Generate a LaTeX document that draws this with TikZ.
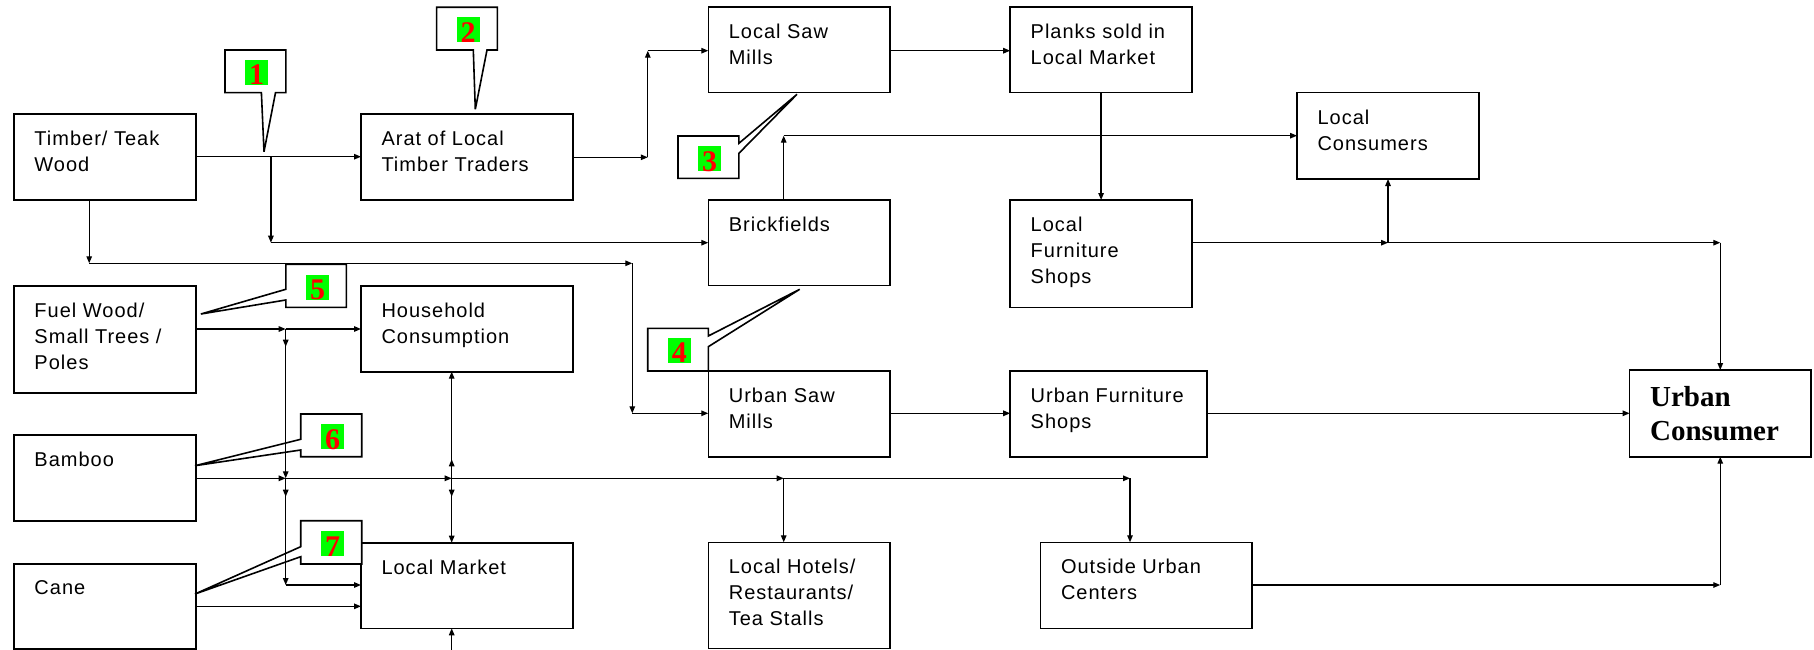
\documentclass[tikz,border=0pt]{standalone}
\usepackage{fontspec}
\setmainfont{Liberation Sans}
\newfontfamily\ucfont{Liberation Serif}
\usetikzlibrary{arrows.meta}
\definecolor{numgreen}{RGB}{0,255,0}
\definecolor{numred}{RGB}{255,0,0}
% #1 width, #2 height, #3 first baseline, #4 text
\newcommand\boxtxt[4]{\hspace*{20.5pt}\parbox[t][#2pt][t]{\dimexpr #1pt-20.5pt\relax}{\raggedright\rule{0pt}{#3pt}#4}}
\tikzset{
  bx/.style={draw, line width=1.6pt, inner sep=0pt, outer sep=0pt, anchor=north west,
    font=\fontsize{20pt}{26pt}\selectfont\addfontfeatures{LetterSpace=5}},
  ubx/.style={draw, line width=1.6pt, inner sep=0pt, outer sep=0pt, anchor=north west,
    font=\fontsize{29pt}{33.3pt}\selectfont\ucfont\bfseries},
  ar/.style={line width=1.3pt, -{Triangle[length=7pt,width=5.5pt]}},
  co/.style={draw, fill=white, line width=1.6pt, miter limit=4},
  num/.style={fill=numgreen, text=numred, inner sep=0pt, minimum width=23pt,
    text height=25pt, text depth=0pt, font=\fontsize{30pt}{30pt}\selectfont\ucfont\bfseries}
}
\begin{document}
\begin{tikzpicture}[x=1pt,y=-1pt]
\useasboundingbox (0,0) rectangle (1814,650);
% boxes
\node[bx] (timber) at (14,114.3) {\boxtxt{182}{85.7}{31.5}{Timber/ Teak\\Wood}};
\node[bx] (arat) at (361,114.3) {\boxtxt{212}{85.7}{31.5}{Arat of Local\\Timber Traders}};
\node[bx] (lsm) at (708.3,7.3) {\boxtxt{181.4}{85.4}{31.5}{Local Saw\\Mills}};
\node[bx] (planks) at (1010.2,7.3) {\boxtxt{181.8}{85.4}{31.5}{Planks sold in\\Local Market}};
\node[bx] (lc) at (1297,92.7) {\boxtxt{181.8}{86.3}{31.5}{Local\\Consumers}};
\node[bx] (brick) at (708.3,200) {\boxtxt{181.4}{85.3}{31.5}{Brickfields}};
\node[bx] (lfs) at (1010.2,200) {\boxtxt{181.8}{107.3}{31.5}{Local\\Furniture\\Shops}};
\node[bx] (fw) at (14,285.7) {\boxtxt{182}{107}{31.5}{Fuel Wood/\\Small Trees /\\Poles}};
\node[bx] (hh) at (361,285.7) {\boxtxt{212}{86}{31.5}{Household\\Consumption}};
\node[bx] (usm) at (708.3,371) {\boxtxt{181.4}{85.7}{31.5}{Urban Saw\\Mills}};
\node[bx] (ufs) at (1010.2,371) {\boxtxt{196.5}{85.7}{31.5}{Urban Furniture\\Shops}};
\node[ubx] (uc) at (1629.6,370) {\boxtxt{181.3}{86.7}{36.7}{Urban\\Consumer}};
\node[bx] (bamboo) at (14,435) {\boxtxt{182}{85.7}{31.5}{Bamboo}};
\node[bx] (cane) at (14,564) {\boxtxt{182}{85}{30.5}{Cane}};
\node[bx] (lm) at (361,542.7) {\boxtxt{212}{85.6}{31.5}{Local Market}};
\node[bx] (lh) at (708.3,542.3) {\boxtxt{181.4}{106}{31.5}{Local Hotels/\\Restaurants/\\Tea Stalls}};
\node[bx] (ouc) at (1040.5,542.3) {\boxtxt{211.5}{86}{31.5}{Outside Urban\\Centers}};
% callouts
\draw[co] (225,50) -- (285.8,50) -- (285.8,92.7) -- (275.5,92.7) -- (264,151.7) -- (261.4,92.7) -- (225,92.7) -- cycle;
\node[num] (n1) at (256.5,72.5) {1};
\draw[co] (436.6,7.3) -- (497.4,7.3) -- (497.4,50) -- (487,50) -- (475.3,109.3) -- (473.3,50) -- (436.6,50) -- cycle;
\node[num] (n2) at (468,29.8) {2};
\draw[co] (678,136) -- (738.9,136) -- (738.9,143.3) -- (797,94.3) -- (738.9,153.3) -- (738.9,178.3) -- (678,178.3) -- cycle;
\node[num] (n3) at (709.5,158.5) {3};
\draw[co] (647.7,328.3) -- (708.3,328.3) -- (708.3,336) -- (799.7,289.3) -- (708.3,346.7) -- (708.3,371) -- (647.7,371) -- cycle;
\node[num] (n4) at (679.3,350.2) {4};
\draw[co] (285.8,264.3) -- (346.3,264.3) -- (346.3,307.3) -- (285.8,307.3) -- (285.8,300) -- (200.9,314) -- (285.8,289.3) -- cycle;
\node[num] (n5) at (317.5,287) {5};
\draw[co] (300.7,414) -- (361.7,414) -- (361.7,456.7) -- (300.7,456.7) -- (300.7,450) -- (195,465.7) -- (300.7,439.3) -- cycle;
\node[num] (n6) at (332.5,436.5) {6};
\draw[co] (300.7,520.7) -- (361.7,520.7) -- (361.7,564) -- (300.7,564) -- (300.7,556.7) -- (195,594) -- (300.7,546.7) -- cycle;
\node[num] (n7) at (332.5,543.5) {7};
% junction coordinates
\coordinate (j1) at (270.9,156.7);
\coordinate (j1b) at (270.9,242.7);
\coordinate (t1) at (89.2,263.3);
\coordinate (t2) at (632.3,263.3);
\coordinate (t3) at (632.3,413.3);
\coordinate (a1) at (647.8,157.3);
\coordinate (a2) at (647.8,50.7);
\coordinate (b1) at (783.7,135.7);
\coordinate (f1) at (1388,242.7);
\coordinate (f2) at (1720.25,242.7);
\coordinate (o1) at (1720.25,585);
\coordinate (jF) at (285.7,329);
\coordinate (jB1) at (285.7,478.3);
\coordinate (jB2) at (451.7,478.3);
\coordinate (jB3) at (783.7,478.3);
\coordinate (jB4) at (1130,478.3);
\coordinate (jC) at (285.7,585);
\coordinate (bot) at (451.7,651);
% connectors
\draw[ar] (timber.east|-j1) -- (arat.west|-j1);
\draw[ar] (j1) -- (j1b);
\draw[ar] (j1b) -- (brick.west|-j1b);
\draw[ar] (t1|-timber.south) -- (t1);
\draw[ar] (t1) -- (t2);
\draw[ar] (t2) -- (t3);
\draw[ar] (t3) -- (usm.west|-t3);
\draw[ar] (arat.east|-a1) -- (a1);
\draw[ar] (a1) -- (a2);
\draw[ar] (a2) -- (lsm.west|-a2);
\draw[ar] (lsm.east|-a2) -- (planks.west|-a2);
\draw[ar] (planks.south) -- (planks.south|-lfs.north);
\draw[ar] (b1|-brick.north) -- (b1);
\draw[ar] (b1) -- (lc.west|-b1);
\draw[ar] (lfs.east|-f1) -- (f1);
\draw[ar] (f1) -- (f2);
\draw[ar] (f2) -- (uc.north);
\draw[ar] (f1) -- (f1|-lc.south);
\draw[ar] (usm.east|-t3) -- (ufs.west|-t3);
\draw[ar] (ufs.east|-t3) -- (uc.west|-t3);
\draw[ar] (ouc.east|-o1) -- (o1);
\draw[ar] (o1) -- (uc.south);
\draw[ar] (fw.east|-jF) -- (jF);
\draw[ar] (jF) -- (hh.west|-jF);
\draw[ar] (jF) -- ++(0,17.7);
\draw[ar] (jF) -- (jB1);
\draw[ar] (bamboo.east|-jB1) -- (jB1);
\draw[ar] (jB1) -- (jB2);
\draw[ar] (jB2) -- (jB3);
\draw[ar] (jB3) -- (jB4);
\draw[ar] (jB3) -- (jB3|-lh.north);
\draw[ar] (jB4) -- (jB4|-ouc.north);
\draw[ar] (jB1) -- ++(0,18.4);
\draw[ar] (jB1) -- (jC);
\draw[ar] (jC) -- (lm.west|-jC);
\draw[ar] (cane.east|-0,606.3) -- (lm.west|-0,606.3);
\draw[ar] (jB2) -- (jB2|-hh.south);
\draw[ar] (jB2) -- ++(0,-19);
\draw[ar] (jB2) -- ++(0,18.4);
\draw[ar] (jB2) -- (jB2|-lm.north);
\draw[ar] (bot) -- (bot|-lm.south);
\end{tikzpicture}
\end{document}
